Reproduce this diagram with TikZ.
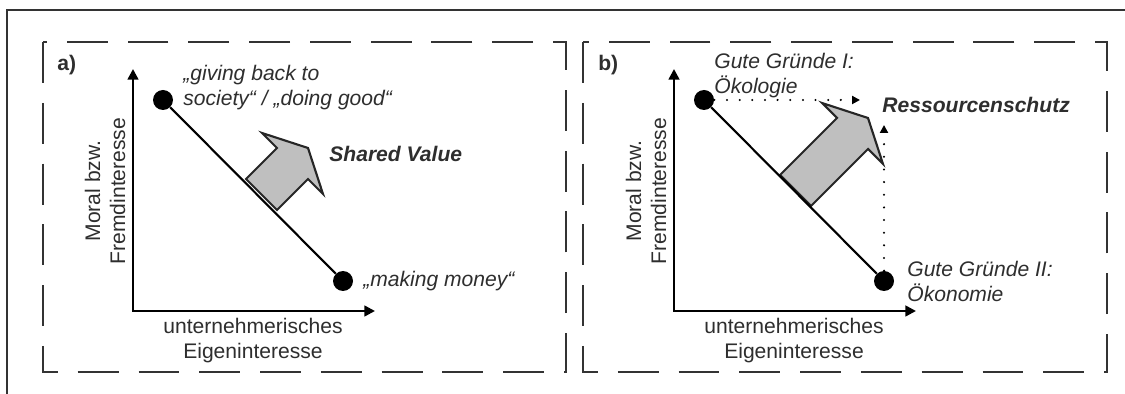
\documentclass[tikz,border=0pt]{standalone}
\usepackage{fontspec}
\setmainfont{Liberation Sans}
\usetikzlibrary{arrows.meta}

\definecolor{framegray}{gray}{0.2}
\definecolor{txtgray}{gray}{0.18}
\tikzset{
  endpt/.style={circle,fill,inner sep=0pt,minimum size=0.4cm},
  conn/.style={line width=1.2pt},
  axisline/.style={line width=1.4pt,{Triangle[length=6pt,width=6pt]}-{Triangle[length=6pt,width=6pt]}},
  panel/.style={framegray,line width=1.4pt,dash pattern=on 23.3pt off 11.3pt},
  blockarrow/.style={fill=black!25,draw=black!85,line width=1.2pt,line join=miter},
  dotarrow/.style={line width=1.3pt,line cap=round,dash pattern=on 0pt off 7.2pt,-{Triangle[length=4.5pt,width=4.5pt]}},
  lbl/.style={inner sep=0pt,text=txtgray,font=\fontsize{12}{14.2}\selectfont},
  itlbl/.style={lbl,font=\fontsize{12}{14.2}\selectfont\itshape},
  bflbl/.style={lbl,font=\fontsize{12}{14.2}\selectfont\bfseries},
  bilbl/.style={lbl,font=\fontsize{12}{14.2}\selectfont\bfseries\itshape},
}

\begin{document}
\begin{tikzpicture}[x=0.02cm,y=-0.02cm]
  \useasboundingbox (0,0) rectangle (1125,394);

  % frame and panels
  \draw[framegray,line width=1.4pt] (1125,10) -- (7,10) -- (7,394);
  \draw[panel] (43,42) rectangle (566,372);
  \draw[panel] (583,42) rectangle (1107,372);

  % panel a
  \node[bflbl,anchor=west] (tagA) at (57,65) {a)};
  \coordinate (oA) at (133,311);
  \coordinate (xA) at (375,311);
  \coordinate (yA) at (133,69);
  \draw[axisline] (yA) -- (oA) -- (xA);
  \node[lbl,rotate=90,align=center] (ylabA) at (105,191) {Moral bzw.\\Fremdinteresse};
  \node[lbl,align=center] (xlabA) at (253,341) {unternehmerisches\\Eigeninteresse};

  \draw[blockarrow] (246,179) -- ++(31,-31) -- ++(-15,-15) -- ++(46,15)
    -- ++(15,46) -- ++(-15,-15) -- ++(-31,31) -- cycle;

  \node[endpt] (topA) at (163,100) {};
  \node[endpt] (botA) at (343,281) {};
  \draw[conn] (topA) -- (botA);

  \node[itlbl,anchor=west,align=left] (givingA) at (183,88) {„giving back to\\society“ / „doing good“};
  \node[itlbl,anchor=west] (moneyA) at (363,281) {„making money“};
  \node[bilbl,anchor=west] (sharedA) at (329,154) {Shared Value};

  % panel b
  \node[bflbl,anchor=west] (tagB) at (598,65) {b)};
  \coordinate (oB) at (674,311);
  \coordinate (xB) at (916,311);
  \coordinate (yB) at (674,69);
  \draw[axisline] (yB) -- (oB) -- (xB);
  \node[lbl,rotate=90,align=center] (ylabB) at (646,191) {Moral bzw.\\Fremdinteresse};
  \node[lbl,align=center] (xlabB) at (794,341) {unternehmerisches\\Eigeninteresse};

  \draw[blockarrow] (780,175) -- ++(57,-57) -- ++(-15,-15) -- ++(46,15)
    -- ++(15,46) -- ++(-15,-15) -- ++(-57,57) -- cycle;

  \node[endpt] (topB) at (704,100) {};
  \node[endpt] (botB) at (884,281) {};
  \draw[conn] (topB) -- (botB);

  \coordinate (ecoEnd) at (860,100);
  \coordinate (econEnd) at (884,125);
  \draw[dotarrow] (topB) -- (ecoEnd);
  \draw[dotarrow] (botB) -- (econEnd);

  \node[itlbl,anchor=west,align=left] (ecoB) at (714,76) {Gute Gründe I:\\Ökologie};
  \node[bilbl,anchor=west] (resB) at (882,105) {Ressourcenschutz};
  \node[itlbl,anchor=west,align=left] (econB) at (907,281) {Gute Gründe II:\\Ökonomie};
\end{tikzpicture}
\end{document}
